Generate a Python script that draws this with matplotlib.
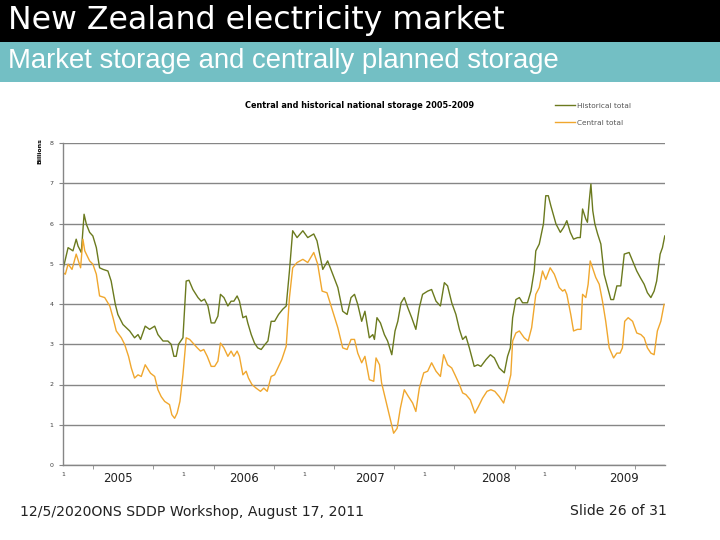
import matplotlib
matplotlib.use("Agg")
import matplotlib.pyplot as plt
from matplotlib.patches import Rectangle

# weekly storage (billions), week 0 = first week of 2005
hist_week = [0.0, 2.2, 4.3, 5.7, 6.5, 7.9, 9.1, 10.1, 11.5, 12.9, 14.4, 15.8, 17.3, 19.4, 20.8,
             22.6, 23.7, 25.9, 28.8, 30.9, 32.4, 33.5, 35.5, 37.4, 39.6, 41.0, 43.2, 45.3, 46.7,
             47.9, 48.9, 49.9, 51.8, 53.2, 54.4, 56.1, 58.3, 59.7, 61.1, 62.6, 64.0, 65.5, 66.9,
             68.0, 69.5, 71.2, 72.6, 73.8, 75.2, 76.2, 77.7, 79.1, 79.8, 81.3, 82.7, 84.1, 85.6,
             87.3, 88.5, 89.9, 91.4, 93.1, 94.9, 96.4, 97.8, 99.2, 101.1, 103.6, 105.7, 108.3,
             109.7, 112.2, 114.3, 116.5, 118.7, 120.8, 122.7, 124.4, 125.9, 127.3, 129.0, 130.4,
             132.3, 133.8, 134.5, 135.6, 137.1, 138.8, 140.2, 142.0, 143.4, 144.6, 146.0, 147.4,
             148.9, 150.6, 152.4, 153.9, 155.3, 157.5, 159.2, 161.1, 163.0, 164.7, 166.1, 167.9,
             169.7, 171.2, 172.6, 174.0, 175.5, 177.6, 179.1, 180.5, 182.7, 184.6, 186.3, 188.4,
             190.6, 192.0, 193.2, 194.2, 195.6, 197.1, 198.5, 200.6, 202.1, 203.5, 204.2, 205.7,
             207.5, 208.5, 209.6, 210.7, 212.9, 214.8, 216.2, 217.6, 219.1, 220.5, 222.2, 223.4,
             224.4, 225.8, 226.5, 227.3, 228.0, 228.8, 229.7, 230.9, 232.3, 233.7, 235.2, 236.6,
             237.8, 239.2, 240.9, 242.4, 244.5, 246.0, 247.8, 249.3, 251.0, 252.4, 253.9, 255.3,
             256.4, 257.9, 258.9, 259.9]
hist_total = [4.86, 5.40, 5.32, 5.61, 5.44, 5.28, 6.23, 5.98, 5.78, 5.69, 5.40, 4.90, 4.86, 4.82, 4.57,
              3.99, 3.74, 3.49, 3.33, 3.16, 3.24, 3.12, 3.45, 3.37, 3.45, 3.24, 3.08, 3.08, 3.00,
              2.70, 2.70, 3.00, 3.16, 4.57, 4.59, 4.36, 4.16, 4.07, 4.12, 3.95, 3.53, 3.53, 3.70,
              4.24, 4.16, 3.95, 4.07, 4.07, 4.20, 4.07, 3.66, 3.70, 3.53, 3.24, 3.03, 2.91, 2.87,
              3.00, 3.08, 3.57, 3.57, 3.74, 3.87, 3.95, 4.82, 5.82, 5.65, 5.82, 5.65, 5.74,
              5.57, 4.86, 5.07, 4.74, 4.41, 3.82, 3.74, 4.16, 4.24, 3.99, 3.57, 3.82,
              3.16, 3.24, 3.12, 3.66, 3.53, 3.24, 3.08, 2.74, 3.33, 3.57, 4.03, 4.16,
              3.91, 3.66, 3.37, 3.91, 4.24, 4.32, 4.36, 4.07, 3.95, 4.53, 4.45, 4.03,
              3.74, 3.37, 3.12, 3.20, 2.91, 2.45, 2.49, 2.45, 2.62, 2.74, 2.66, 2.41,
              2.29, 2.70, 2.91, 3.66, 4.11, 4.16, 4.03, 4.03, 4.32, 4.82, 5.32, 5.49,
              5.99, 6.69, 6.69, 6.44, 5.99, 5.78, 5.90, 6.07, 5.78, 5.61, 5.65, 5.65,
              6.36, 6.11, 6.03, 6.57, 6.98, 6.32, 5.99, 5.74, 5.49, 4.74, 4.41, 4.11,
              4.11, 4.45, 4.45, 5.24, 5.28, 5.07, 4.82, 4.66, 4.49, 4.28, 4.16, 4.32,
              4.57, 5.24, 5.40, 5.69]

cent_week = [0.0, 1.0, 2.2, 3.9, 5.7, 7.6, 8.6, 9.4, 11.5, 12.9, 14.4, 15.8, 18.0, 20.2, 21.6,
             23.0, 25.2, 26.6, 28.3, 29.5, 30.9, 32.4, 33.8, 35.5, 37.8, 39.6, 41.0, 42.4, 43.9,
             46.0, 47.0, 48.2, 49.3, 50.5, 51.8, 53.2, 54.7, 56.1, 58.0, 59.4, 60.8, 62.3, 64.0,
             65.5, 66.9, 68.0, 69.5, 71.2, 72.6, 73.8, 75.2, 76.2, 77.7, 79.1, 80.1, 81.6, 83.4,
             85.3, 86.7, 88.2, 89.9, 91.4, 92.8, 94.5, 96.4, 97.8, 99.2, 101.1, 103.6, 105.7,
             108.3, 110.0, 111.9, 114.0, 116.5, 118.7, 120.8, 122.7, 124.4, 125.9, 127.3, 129.0,
             130.4, 132.3, 134.2, 135.2, 136.7, 137.6, 139.5, 141.4, 142.8, 144.3, 145.7, 147.4,
             149.2, 151.0, 152.4, 153.9, 155.8, 157.5, 159.2, 161.1, 163.0, 164.4, 166.1, 167.9,
             169.3, 171.2, 172.6, 174.0, 175.9, 177.9, 179.4, 181.2, 183.1, 184.8, 186.5, 188.4,
             190.3, 191.7, 193.4, 194.2, 195.6, 197.1, 199.2, 200.9, 202.4, 204.2, 205.7, 207.1,
             208.5, 210.4, 212.2, 214.3, 215.8, 216.7, 217.6, 219.3, 220.5, 222.2, 223.7, 224.4,
             225.8, 226.8, 227.7, 228.7, 230.1, 231.6, 233.0, 234.4, 235.9, 237.8, 239.2, 240.6,
             241.6, 242.6, 244.1, 246.0, 247.8, 249.6, 251.0, 252.4, 253.9, 255.3, 256.7, 258.2,
             259.6]
cent_total = [4.78, 4.74, 4.99, 4.86, 5.24, 4.90, 5.61, 5.32, 5.07, 4.99, 4.74, 4.20, 4.16, 3.95, 3.66,
              3.33, 3.16, 3.00, 2.70, 2.41, 2.16, 2.24, 2.20, 2.49, 2.28, 2.20, 1.87, 1.70, 1.58,
              1.50, 1.25, 1.16, 1.29, 1.58, 2.24, 3.16, 3.12, 3.03, 2.91, 2.83, 2.87, 2.70, 2.45,
              2.45, 2.58, 3.03, 2.91, 2.70, 2.83, 2.70, 2.83, 2.70, 2.24, 2.33, 2.16, 2.00, 1.91,
              1.83, 1.91, 1.83, 2.20, 2.24, 2.41, 2.62, 2.95, 4.16, 4.90, 5.03, 5.11, 5.03,
              5.28, 4.99, 4.32, 4.28, 3.82, 3.41, 2.91, 2.87, 3.12, 3.12, 2.78, 2.54,
              2.70, 2.12, 2.08, 2.66, 2.49, 2.04, 1.58, 1.12, 0.79, 0.91, 1.41, 1.87,
              1.70, 1.54, 1.33, 1.91, 2.29, 2.33, 2.54, 2.33, 2.20, 2.74, 2.49, 2.41,
              2.24, 2.00, 1.79, 1.75, 1.62, 1.29, 1.45, 1.66, 1.83, 1.87, 1.83, 1.70,
              1.54, 1.83, 2.24, 3.08, 3.28, 3.33, 3.16, 3.08, 3.41, 4.24, 4.41, 4.82,
              4.61, 4.90, 4.74, 4.41, 4.32, 4.36, 4.24, 3.74, 3.33, 3.37, 3.37, 4.24,
              4.16, 4.49, 5.07, 4.90, 4.66, 4.49, 4.07, 3.57, 2.91, 2.66, 2.78, 2.78,
              2.91, 3.57, 3.66, 3.57, 3.28, 3.24, 3.16, 2.91, 2.78, 2.74, 3.33, 3.57,
              3.99]

year_start_weeks = [0, 52, 104, 156, 208]
years = ['2005', '2006', '2007', '2008', '2009']

GREEN = '#6b7a1e'
ORANGE = '#f0a72e'
GRID = '#868686'

fig = plt.figure(figsize=(7.2, 5.4), dpi=100)
W, H = 720.0, 540.0

# slide header bars
fig.add_artist(Rectangle((0, 1 - 42 / H), 1, 42 / H, transform=fig.transFigure,
                         facecolor='black', edgecolor='none'))
fig.add_artist(Rectangle((0, 1 - 82 / H), 1, 40 / H, transform=fig.transFigure,
                         facecolor='#73bfc4', edgecolor='none'))
fig.text(8 / W, 1 - 21 / H, 'New Zealand electricity market', color='white',
         fontsize=22.8, family='DejaVu Sans', ha='left', va='center')
fig.text(8 / W, 1 - 61 / H, 'Market storage and centrally planned storage', color='white',
         fontsize=19.8, family='Liberation Sans', ha='left', va='center')

ax = fig.add_axes([63 / W, 1 - 465 / H, 602 / W, 322 / H])
ax.plot(hist_week, hist_total, color=GREEN, lw=1.0, label='Historical total')
ax.plot(cent_week, cent_total, color=ORANGE, lw=1.0, label='Central total')

ax.set_ylim(0, 8)
ax.set_xlim(0, 260)
ax.set_yticks(range(0, 9))
ax.tick_params(axis='y', labelsize=4.5, labelcolor='#404040', color=GRID, length=3, pad=4)
ax.grid(axis='y', color=GRID, lw=1.0)
ax.set_axisbelow(True)
for s in ['top', 'right']:
    ax.spines[s].set_visible(False)
for s in ['left', 'bottom']:
    ax.spines[s].set_color(GRID)
    ax.spines[s].set_linewidth(1.0)

ax.set_xticks(year_start_weeks)
ax.set_xticklabels(['1'] * len(year_start_weeks))
ax.set_xticks([13 + 26 * k for k in range(10)], minor=True)
ax.tick_params(axis='x', which='major', labelsize=4.5, labelcolor='#404040', length=0, pad=5)
ax.tick_params(axis='x', which='minor', color=GRID, length=3)

for xpix, y in zip([118, 244, 370, 496, 624], years):
    fig.text(xpix / W, 1 - 479 / H, y, fontsize=8.5, ha='center', va='center', color='#222222')

fig.text(40 / W, 1 - 151 / H, 'Billions', rotation=90, fontsize=4.5, fontweight='bold',
         ha='center', va='center')
fig.text(245 / W, 1 - 105 / H, 'Central and historical national storage 2005-2009',
         fontsize=5.9, fontweight='bold', ha='left', va='center')

ax.legend(loc='upper left', bbox_to_anchor=(548 / W, 1 - 96 / H), bbox_transform=fig.transFigure,
          frameon=False, fontsize=5.3, handlelength=2.8, handletextpad=0.3, labelspacing=1.45,
          labelcolor='#555555')

fig.text(20 / W, 1 - 512 / H, '12/5/2020ONS SDDP Workshop, August 17, 2011', fontsize=10.1,
         ha='left', va='center', color='#222222')
fig.text(570 / W, 1 - 511 / H, 'Slide 26 of 31', fontsize=10.1, ha='left', va='center',
         color='#222222')

fig.savefig('out.png', dpi=100)
